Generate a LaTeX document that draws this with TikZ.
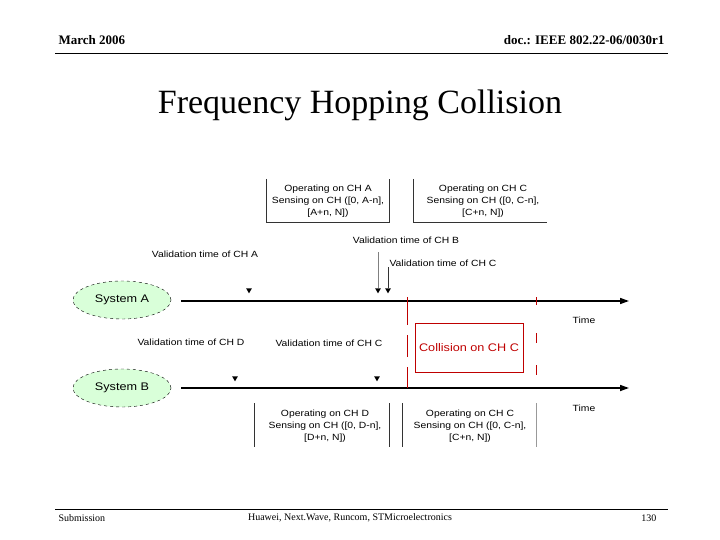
\documentclass[tikz,border=0pt]{standalone}
\usepackage{fontspec}
\setmainfont{Liberation Serif}
\newfontfamily\dsans[FakeStretch=1.15]{Liberation Sans}
\usetikzlibrary{arrows.meta,shapes.geometric}
\begin{document}
\begin{tikzpicture}[x=1pt,y=-1pt,
 lab/.style={font=\dsans\fontsize{9}{12}\selectfont,inner sep=0pt},
 boxt/.style={lab,align=center},
 tl/.style={line width=1.6pt,-{Triangle[length=9pt,width=6pt]}},
 mk/.style={fill=black,inner sep=0pt,isosceles triangle,shape border rotate=-90,minimum width=5pt,minimum height=5pt,isosceles triangle apex angle=60},
 sys/.style={ellipse,draw,dashed,fill=green!15,minimum width=98pt,minimum height=38pt,font=\dsans\fontsize{11}{13}\selectfont},
 thin/.style={line width=0.6pt,black!80},
 redline/.style={line width=0.6pt,draw=red!75!black,dash pattern=on 28pt off 10pt on 22pt off 10pt on 30pt}]
\useasboundingbox (0,0) rectangle (720,540);
% header
\node[font=\bfseries\fontsize{13}{15}\selectfont,anchor=west] (hl) at (55,40) {March 2006};
\node[font=\bfseries\fontsize{13}{15}\selectfont,anchor=east] (hr) at (668,40) {doc.: IEEE 802.22-06/0030r1};
\draw[line width=0.8pt] (55,53) coordinate (h1) -- (668,53) coordinate (h2);
\node[font=\fontsize{34}{38}\selectfont] (title) at (360,105) {Frequency Hopping Collision};
\draw[line width=0.8pt] (55,509) coordinate (f1) -- (668,509) coordinate (f2);
\node[font=\fontsize{10}{12}\selectfont,anchor=west] (fs) at (55,518) {Submission};
\node[font=\fontsize{10}{12}\selectfont] (fm) at (350,518) {Huawei, Next.Wave, Runcom, STMicroelectronics};
\node[font=\fontsize{10}{12}\selectfont,anchor=east] (fp) at (660,518) {130};
% systems
\node[sys] (sa) at (122,300) {System A};
\node[sys] (sb) at (122,388) {System B};
\coordinate (a0) at (181,301); \coordinate (a1) at (629,301);
\coordinate (b0) at (181,388); \coordinate (b1) at (629,388);
\draw[tl] (a0) -- (a1);
\draw[tl] (b0) -- (b1);
\node[lab] (ta) at (584,320) {Time};
\node[lab] (tb) at (584,408) {Time};
% markers
\node[mk] (ma1) at (249,290) {}; \node[mk] (ma2) at (378,290) {}; \node[mk] (ma3) at (388,290) {};
\node[mk] (mb1) at (235,378) {}; \node[mk] (mb2) at (377,378) {};
% validation labels
\node[lab] (va) at (205,254) {Validation time of CH A};
\node[lab] (vb) at (406,240) {Validation time of CH B};
\node[lab] (vc) at (443,263) {Validation time of CH C};
\node[lab] (vd) at (191,342) {Validation time of CH D};
\node[lab] (vc2) at (329,343) {Validation time of CH C};
\draw[thin,black!50] (378,252) -- (ma2.north);
\draw[thin] (388,267) -- (ma3.north);
% top boxes
\draw[thin] (266,179) -- (266,222) -- (389,222) -- (389,179);
\draw[thin] (413,179) -- (413,222) -- (547,222);
\node[boxt] (bt1) at (328,201) {Operating on CH A\\Sensing on CH ([0, A-n],\\{}[A+n, N])};
\node[boxt] (bt2) at (483,201) {Operating on CH C\\Sensing on CH ([0, C-n],\\{}[C+n, N])};
% bottom boxes
\draw[thin] (254,403) -- (254,447); \draw[thin] (389,403) -- (389,447);
\draw[thin] (402,403) -- (402,447); \draw[thin,black!40] (536,403) -- (536,447);
\node[boxt] (bb1) at (325,426) {Operating on CH D\\Sensing on CH ([0, D-n],\\{}[D+n, N])};
\node[boxt] (bb2) at (470,426) {Operating on CH C\\Sensing on CH ([0, C-n],\\{}[C+n, N])};
% collision
\draw[redline] (407,297) -- (407,388);
\draw[redline,dash phase=-8pt] (536,297) -- (536,388);
\node[draw=red!75!black,line width=0.9pt,minimum width=108pt,minimum height=49pt,text=red!75!black,font=\dsans\fontsize{11}{13}\selectfont] (col) at (469,348) {Collision on CH C};
\end{tikzpicture}
\end{document}
